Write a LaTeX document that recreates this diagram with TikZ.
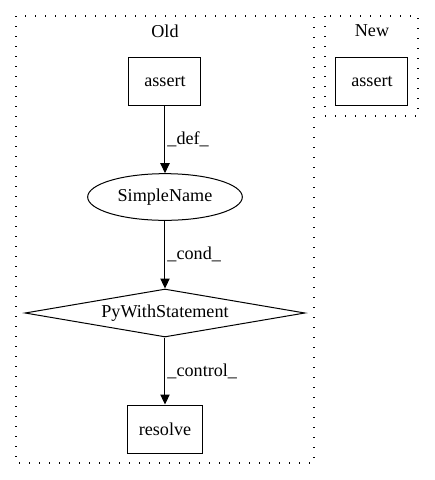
\documentclass[tikz,border=0pt]{standalone}
\usepackage{fontspec}
\setmainfont{Liberation Serif}
\usetikzlibrary{positioning, shapes.geometric, arrows.meta}

\begin{document}
\begin{tikzpicture}[auto, x=0.75pt, y=-0.75pt, node distance=87pt,
	font=\fontsize{13.6}{16}\selectfont, line width=0.75pt,
	box/.style={draw, rectangle, minimum height=36pt},
	cluster/.style={draw, line width=1pt, dash pattern=on 1pt off 6.5pt},
	lbl/.style={inner sep=1.5pt},
	>={Triangle[length=7.5pt, width=7pt]}]
	\useasboundingbox (0,0) rectangle (435,480);
	\draw[cluster] (16,16) rectangle (314,463);
	\draw[cluster] (325,16) rectangle (418,116);
	\node (old) at (165,31) {Old};
	\node (new) at (372,31) {New};
	\node (oldassert) [box, minimum width=54pt] at (165,81) {assert};
	\node (simplename) [below of=oldassert, draw, ellipse, minimum width=116pt, minimum height=35pt, inner sep=0pt] {SimpleName};
	\node (withstmt) [below of=simplename, draw, diamond, aspect=5.8, minimum width=210pt, minimum height=36pt, inner sep=0pt] {PyWithStatement};
	\node (resolve) [below of=withstmt, box, minimum width=56pt] {resolve};
	\node (newassert) [box, minimum width=54pt] at (372,81) {assert};
	\path[->]
		(oldassert) edge node[lbl] {\_def\_} (simplename)
		(simplename) edge node[lbl] {\_cond\_} (withstmt)
		(withstmt) edge node[lbl] {\_control\_} (resolve)
	;
\end{tikzpicture}
\end{document}
